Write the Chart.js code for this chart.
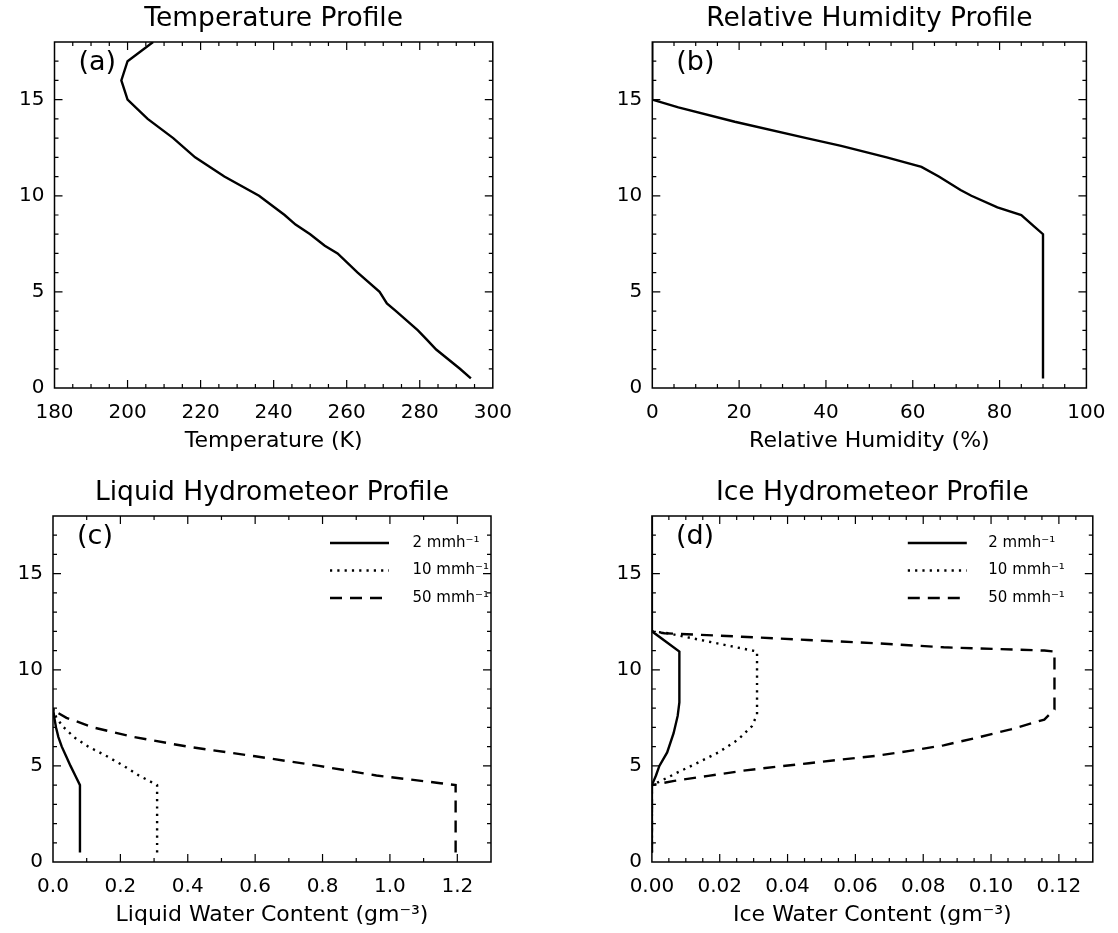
<!DOCTYPE html>
<html>
<head>
<meta charset="utf-8">
<script src="https://cdn.jsdelivr.net/npm/chart.js@4.4.0/dist/chart.umd.min.js"></script>
<style>
  body { margin: 0; background: #fff; overflow: hidden; width: 1118px; height: 933px; position: relative; }
  canvas { position: absolute; }
</style>
</head>
<body>
<canvas id="chartA" width="559" height="466" style="left:0;top:0"></canvas>
<canvas id="chartB" width="559" height="466" style="left:559px;top:0"></canvas>
<canvas id="chartC" width="559" height="466" style="left:0;top:474px"></canvas>
<canvas id="chartD" width="559" height="466" style="left:559px;top:474px"></canvas>
<script>
// height axis (km) shared by all panels
var heightTicks = [0, 5, 10, 15];

// (a) temperature
var tempHeights = [0.5, 1, 2, 2.5, 3, 4, 4.4, 5, 6, 7, 7.4, 8, 8.5, 9, 10, 11, 12, 13, 14, 15, 16, 17, 18];
var tempValues = [294, 291, 284.5, 282, 279.5, 273.5, 271, 269, 263, 257.5, 254, 250, 246, 243, 236, 226.5, 218.5, 212.5, 205.5, 200, 198.3, 200, 207];
var tempTicks = [180, 200, 220, 240, 260, 280, 300];

// (b) relative humidity
var rhHeights = [0.5, 8, 8.4, 9, 9.4, 10, 10.3, 11, 11.5, 12, 12.6, 13, 13.85, 14.6, 15, 18];
var rhValues = [90, 90, 88, 85, 79.5, 73.5, 71, 66, 62, 54, 43.5, 35.5, 19, 6, 0, 0];
var rhTicks = [0, 20, 40, 60, 80, 100];

var rainRates = ['2 mmh\u207B\u00B9', '10 mmh\u207B\u00B9', '50 mmh\u207B\u00B9'];

// (c) liquid water content
var lwcHeights2 = [0.5, 4, 4.5, 5, 5.5, 6, 6.5, 7, 7.5, 8];
var lwcValues2 = [0.08, 0.08, 0.066, 0.052, 0.039, 0.026, 0.016, 0.009, 0.004, 0];
var lwcHeights10 = [0.5, 4, 4.5, 5, 5.5, 6, 6.5, 7, 7.5, 8];
var lwcValues10 = [0.309, 0.309, 0.255, 0.21, 0.16, 0.105, 0.062, 0.032, 0.01, 0];
var lwcHeights50 = [0.5, 4, 4.1, 4.5, 5, 5.5, 6, 6.5, 7, 7.5, 7.9];
var lwcValues50 = [1.195, 1.195, 1.15, 0.96, 0.79, 0.6, 0.4, 0.24, 0.12, 0.04, 0];
var lwcTicks = [0, 0.2, 0.4, 0.6, 0.8, 1.0, 1.2];
var lwcTickLabels = ['0.0', '0.2', '0.4', '0.6', '0.8', '1.0', '1.2'];

// (d) ice water content
var iwcHeights2 = [0.5, 4, 4.5, 5, 5.7, 6.7, 7.6, 8.3, 10.95, 12, 18];
var iwcValues2 = [0, 0, 0.0012, 0.0022, 0.0045, 0.0064, 0.0076, 0.0081, 0.0081, 0, 0];
var iwcHeights10 = [0.5, 4, 4.22, 4.66, 5.17, 5.69, 6.38, 7.07, 7.67, 10.95, 11.9, 12];
var iwcValues10 = [0, 0, 0.0027, 0.0076, 0.0136, 0.0195, 0.0255, 0.0295, 0.031, 0.031, 0.0047, 0];
var iwcHeights50 = [0.5, 4, 4.22, 4.48, 4.74, 4.95, 5.14, 5.34, 5.52, 5.78, 6.07, 6.47, 6.9, 7.41, 7.93, 10.95, 11, 11.17, 11.38, 11.55, 11.72, 11.9, 12];
var iwcValues50 = [0, 0, 0.0066, 0.0166, 0.0265, 0.0364, 0.0463, 0.0562, 0.0661, 0.076, 0.086, 0.0959, 0.1058, 0.1157, 0.1187, 0.1187, 0.1157, 0.086, 0.066, 0.046, 0.0265, 0.0037, 0];
var iwcTicks = [0, 0.02, 0.04, 0.06, 0.08, 0.10, 0.12];
var iwcTickLabels = ['0.00', '0.02', '0.04', '0.06', '0.08', '0.10', '0.12'];

Chart.defaults.font.family = "'DejaVu Sans', sans-serif";
Chart.defaults.color = '#000';

var lineDashes = [[], [2.2, 5.1], [12, 8]];

function profile(label, heights, values, k) {
  return {
    label: label,
    data: heights.map(function (h, i) { return { x: values[i], y: h }; }),
    borderColor: '#000',
    borderWidth: 2.4,
    borderDash: lineDashes[k],
    pointRadius: 0,
    tension: 0,
    fill: false
  };
}

// box, inward ticks (IDL style), panel letter and legend
var framePlugin = {
  id: 'frame',
  afterDraw: function (chart, args, opts) {
    var ctx = chart.ctx, a = chart.chartArea;
    var x = chart.scales.x, y = chart.scales.y;
    ctx.save();
    ctx.strokeStyle = '#000';
    ctx.lineWidth = 1.5;
    ctx.setLineDash([]);
    ctx.strokeRect(a.left, a.top, a.right - a.left, a.bottom - a.top);

    ctx.lineWidth = 1.2;
    ctx.beginPath();
    function isMajor(v, list, step) {
      return list.some(function (t) { return Math.abs(t - v) < step / 10; });
    }
    var n = Math.round((x.max - x.min) / opts.xMinor);
    for (var i = 1; i < n; i++) {
      var v = x.min + i * opts.xMinor;
      var len = isMajor(v, opts.xMajor, opts.xMinor) ? 8 : 4;
      var px = x.getPixelForValue(v);
      ctx.moveTo(px, a.bottom); ctx.lineTo(px, a.bottom - len);
      ctx.moveTo(px, a.top); ctx.lineTo(px, a.top + len);
    }
    n = Math.round((y.max - y.min) / opts.yMinor);
    for (var j = 1; j < n; j++) {
      var w = y.min + j * opts.yMinor;
      var l2 = isMajor(w, heightTicks, opts.yMinor) ? 8 : 4;
      var py = y.getPixelForValue(w);
      ctx.moveTo(a.left, py); ctx.lineTo(a.left + l2, py);
      ctx.moveTo(a.right, py); ctx.lineTo(a.right - l2, py);
    }
    ctx.stroke();

    ctx.fillStyle = '#000';
    ctx.textBaseline = 'middle';
    ctx.textAlign = 'left';
    ctx.font = "27px 'DejaVu Sans'";
    ctx.fillText(opts.letter, a.left + 24, a.top + 21);

    if (opts.legendX) {
      ctx.font = "15px 'DejaVu Sans'";
      chart.data.datasets.forEach(function (ds, k) {
        var lx = a.right - opts.legendX;
        var ly = a.top + 27 + k * 27.5;
        ctx.beginPath();
        ctx.lineWidth = ds.borderWidth;
        ctx.setLineDash(ds.borderDash || []);
        ctx.moveTo(lx, ly); ctx.lineTo(lx + 59, ly);
        ctx.stroke();
        ctx.fillText(ds.label, lx + opts.textGap, ly);
      });
    }
    ctx.restore();
  }
};

function makeChart(id, p) {
  return new Chart(document.getElementById(id), {
    type: 'line',
    data: { datasets: p.datasets },
    options: {
      responsive: false,
      animation: false,
      layout: { padding: { left: 0, right: p.padRight, top: 0, bottom: 0 } },
      plugins: {
        legend: { display: false },
        tooltip: { enabled: false },
        title: {
          display: true, text: p.title, fullSize: false,
          font: { size: 26.5, weight: 'normal' },
          padding: { top: 3.5, bottom: 6.7 }
        },
        frame: { xMinor: p.xMinor, xMajor: p.xTicks, yMinor: 1, letter: p.letter, legendX: p.legendX, textGap: p.textGap }
      },
      scales: {
        x: {
          type: 'linear', min: p.xMin, max: p.xMax,
          afterBuildTicks: function (s) { s.ticks = p.xTicks.map(function (v) { return { value: v }; }); },
          ticks: {
            font: { size: 20 }, padding: 12.5, maxRotation: 0, autoSkip: false,
            callback: function (v, i) { return p.xLabels ? p.xLabels[i] : String(v); }
          },
          grid: { display: false, drawTicks: false },
          border: { display: false },
          title: { display: true, text: p.xTitle, font: { size: 22 }, padding: { top: 0, bottom: 11.3 } },
          afterFit: function (s) { s.height = 78; }
        },
        y: {
          type: 'linear', min: 0, max: 18,
          afterBuildTicks: function (s) { s.ticks = heightTicks.map(function (v) { return { value: v }; }); },
          ticks: { font: { size: 20 }, padding: 10, autoSkip: false },
          grid: { display: false, drawTicks: false },
          border: { display: false },
          afterFit: function (s) { s.width = p.left; }
        }
      }
    },
    plugins: [framePlugin]
  });
}

makeChart('chartA', {
  title: 'Temperature Profile', xTitle: 'Temperature (K)', letter: '(a)',
  xMin: 180, xMax: 300, xTicks: tempTicks, xMinor: 5, left: 54.5, padRight: 66.2,
  datasets: [profile('Temperature', tempHeights, tempValues, 0)]
});

makeChart('chartB', {
  title: 'Relative Humidity Profile', xTitle: 'Relative Humidity (%)', letter: '(b)',
  xMin: 0, xMax: 100, xTicks: rhTicks, xMinor: 5, left: 93.3, padRight: 24.2,
  datasets: [profile('Relative Humidity', rhHeights, rhValues, 0)]
});

makeChart('chartC', {
  title: 'Liquid Hydrometeor Profile', xTitle: 'Liquid Water Content (gm\u207B\u00B3)', letter: '(c)',
  xMin: 0, xMax: 1.3, xTicks: lwcTicks, xLabels: lwcTickLabels, xMinor: 0.1, left: 53, padRight: 68,
  legendX: 161, textGap: 82.5,
  datasets: [
    profile(rainRates[0], lwcHeights2, lwcValues2, 0),
    profile(rainRates[1], lwcHeights10, lwcValues10, 1),
    profile(rainRates[2], lwcHeights50, lwcValues50, 2)
  ]
});

makeChart('chartD', {
  title: 'Ice Hydrometeor Profile', xTitle: 'Ice Water Content (gm\u207B\u00B3)', letter: '(d)',
  xMin: 0, xMax: 0.13, xTicks: iwcTicks, xLabels: iwcTickLabels, xMinor: 0.005, left: 92.9, padRight: 25.2,
  legendX: 185, textGap: 80.5,
  datasets: [
    profile(rainRates[0], iwcHeights2, iwcValues2, 0),
    profile(rainRates[1], iwcHeights10, iwcValues10, 1),
    profile(rainRates[2], iwcHeights50, iwcValues50, 2)
  ]
});
</script>
</body>
</html>
